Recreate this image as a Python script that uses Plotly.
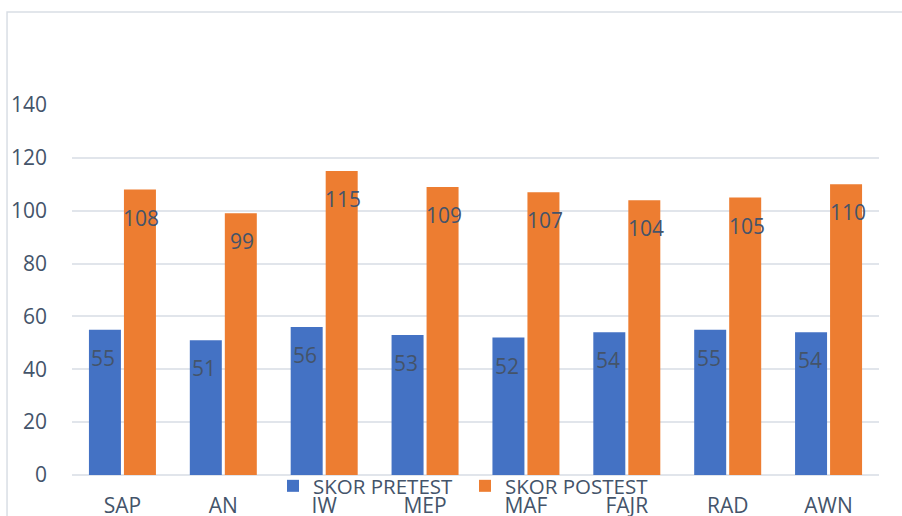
import plotly.graph_objects as go

categories = ["SAP", "AN", "IW", "MEP", "MAF", "FAJR", "RAD", "AWN"]
pretest = [55, 51, 56, 53, 52, 54, 55, 54]
postest = [108, 99, 115, 109, 107, 104, 105, 110]
series_names = ["SKOR PRETEST", "SKOR POSTEST"]
y_ticks = [0, 20, 40, 60, 80, 100, 120, 140]

FONT = "Open Sans"
TXT = "#44546A"
GRID = "#E1E5EB"
FS = 21

fig = go.Figure()
fig.add_trace(go.Bar(x=categories, y=pretest, name=series_names[0],
                     marker=dict(color="#4472C4", line=dict(width=0))))
fig.add_trace(go.Bar(x=categories, y=postest, name=series_names[1],
                     marker=dict(color="#ED7D31", line=dict(width=0))))

annotations = []
for vals, shift in ((pretest, -19), (postest, 19)):
    for c, v in zip(categories, vals):
        annotations.append(dict(x=c, y=v, xref="x", yref="y", text=str(v),
                                showarrow=False, xshift=shift, yshift=-28,
                                yanchor="middle", xanchor="center",
                                font=dict(family=FONT, size=FS, color=TXT)))

fig.update_layout(
    width=902, height=516,
    margin=dict(l=72, r=23, t=105, b=41, autoexpand=False),
    paper_bgcolor="white", plot_bgcolor="white",
    barmode="group", bargap=0.306, bargroupgap=0.086,
    font=dict(family=FONT, size=FS, color=TXT),
    showlegend=True,
    legend=dict(orientation="h", xref="container", yref="container",
                x=465 / 902, xanchor="center", y=(516 - 486) / 516, yanchor="middle",
                font=dict(family=FONT, size=20.5, color=TXT), bgcolor="rgba(0,0,0,0)",
                itemwidth=30, tracegroupgap=0, entrywidth=147, entrywidthmode="pixels"),
    annotations=annotations,
    shapes=[dict(type="rect", xref="paper", yref="paper",
                 x0=-0.0805, x1=1.3, y0=-0.4, y1=1.2514,
                 line=dict(color="#D9DEE5", width=1.5), layer="below")],
)
fig.update_xaxes(showgrid=False, showline=False, ticks="", ticklabelstandoff=16,
                 automargin=False, tickfont=dict(family=FONT, size=FS, color=TXT))
fig.update_yaxes(range=[0, 140], tickvals=y_ticks, showgrid=True, gridcolor=GRID,
                 gridwidth=2, zeroline=True, zerolinecolor=GRID, zerolinewidth=2,
                 showline=False, ticks="", ticklabelstandoff=24, automargin=False,
                 tickfont=dict(family=FONT, size=FS, color=TXT))

fig.write_html("out.html", config={"displayModeBar": False},
               post_script="document.body.style.margin='0';document.body.style.overflow='hidden';")
